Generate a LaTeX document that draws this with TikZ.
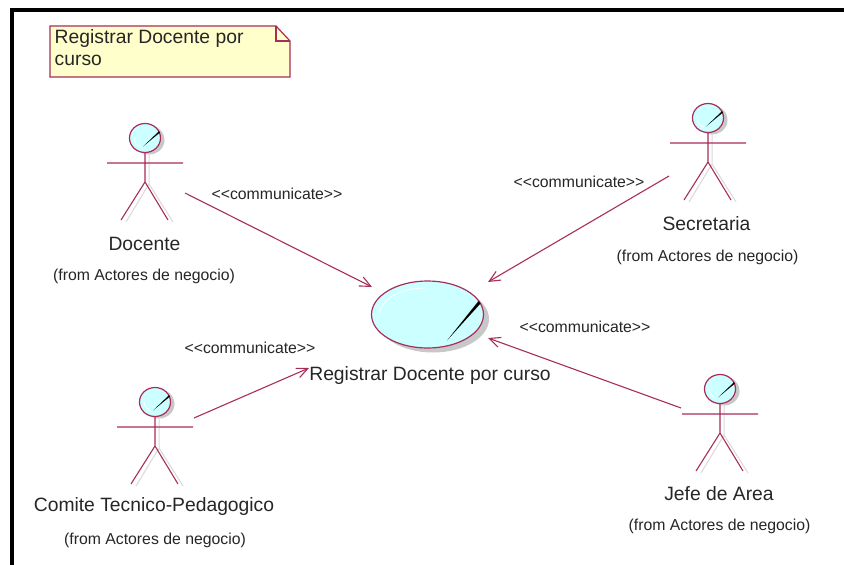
\documentclass[tikz,border=0pt]{standalone}
\usepackage{fontspec}
\setmainfont{Liberation Sans}
\usetikzlibrary{arrows.meta}
\definecolor{rose}{HTML}{A82E5A}
\definecolor{cyanfill}{HTML}{CCFFFF}
\definecolor{notefill}{HTML}{FFFFCC}
\definecolor{dropgrey}{HTML}{C8C8C8}
\tikzset{
 big/.style={inner sep=0pt,font=\fontsize{19.3}{22}\selectfont,text=black!85},
 small/.style={inner sep=0pt,font=\fontsize{15.8}{18}\selectfont,text=black!85},
 assoc/.style={draw=rose,line width=1.1pt,-{Straight Barb[length=11pt,width=10pt,line width=1.1pt]}},
 limb/.style={draw=rose,line width=1.1pt},
 limbshade/.style={draw=dropgrey!70,line width=1pt},
}
\newcommand{\stickman}[3]{% name, x, y of head centre
 \begin{scope}[shift={(#2,#3)}]
  \fill[dropgrey] (4,2) circle[x radius=15.5,y radius=14.5];
  \draw[limbshade] (4,15) -- (4,46) -- (-19,84) (4,46) -- (28,84);
  \draw[limb] (0,15) -- (0,44) -- (-24,82) (0,44) -- (23,82) (-38,25) -- (38,25);
  \draw[rose,line width=1.2pt,fill=cyanfill] (0,0) circle[x radius=15.5,y radius=14.5];
  \draw[white,line width=0.7pt] (-11,-1) arc[start angle=180,end angle=110,radius=11];
  \fill[black] (-2,8.5) -- (14,-6.8) -- (15,-5.5) -- cycle;
  \coordinate (#1) at (0,0);
 \end{scope}
}
\begin{document}
\begin{tikzpicture}[x=1pt,y=-1pt]
\useasboundingbox (0,0) rectangle (844,565);
\fill[white] (0,0) rectangle (844,565);
\fill[black] (10,8) rectangle (844,12);
\fill[black] (10,8) rectangle (14,565);
% note
\draw[rose,line width=1.2pt,fill=notefill] (50,26) -- (276,26) -- (290,41) -- (290,77) -- (50,77) -- cycle;
\draw[rose,line width=1.2pt] (276,26) -- (276,41) -- (290,41);
\node[big,anchor=north west,align=left] (note) at (54.5,29.5) {Registrar Docente por\\curso};
% use case
\fill[dropgrey] (433,319) circle[x radius=56,y radius=33.5];
\draw[rose,line width=1.2pt,fill=cyanfill] (427.5,314.5) circle[x radius=56,y radius=33.5];
\coordinate (uc) at (427.5,314.5);
\draw[white,line width=0.8pt] (379,316) .. controls (380,298) and (402,288) .. (425,288);
\fill[black] (447,340.5) -- (478.5,301) -- (480.5,303.5) -- cycle;
\node[big] (ucl) at (430,375.5) {Registrar Docente por curso};
% actors
\stickman{a}{145}{138}
\stickman{b}{708}{118}
\stickman{c}{155}{402}
\stickman{d}{720}{389}
\node[big] (al) at (144.5,243.5) {Docente};
\node[small] (af) at (144,276.5) {(from Actores de negocio)};
\node[big] (bl) at (706.5,223.5) {Secretaria};
\node[small] (bf) at (707.5,257) {(from Actores de negocio)};
\node[big] (cl) at (154,507) {Comite Tecnico-Pedagogico};
\node[small] (cf) at (155,540) {(from Actores de negocio)};
\node[big] (dl) at (719,493.5) {Jefe de Area};
\node[small] (df) at (719.5,526.5) {(from Actores de negocio)};
% connector ends
\coordinate (a1) at (185,193); \coordinate (a2) at (372,287);
\coordinate (b1) at (669,176); \coordinate (b2) at (488,282);
\coordinate (c1) at (194,418); \coordinate (c2) at (309,368);
\coordinate (d1) at (681,408); \coordinate (d2) at (488,338);
\draw[assoc] (a1) -- (a2);
\draw[assoc] (b1) -- (b2);
\draw[assoc] (c1) -- (c2);
\draw[assoc] (d1) -- (d2);
\node[small] (s1) at (277,194) {<{}<communicate>{}>};
\node[small] (s2) at (579,182) {<{}<communicate>{}>};
\node[small] (s3) at (250,348) {<{}<communicate>{}>};
\node[small] (s4) at (585,327) {<{}<communicate>{}>};
\end{tikzpicture}
\end{document}
